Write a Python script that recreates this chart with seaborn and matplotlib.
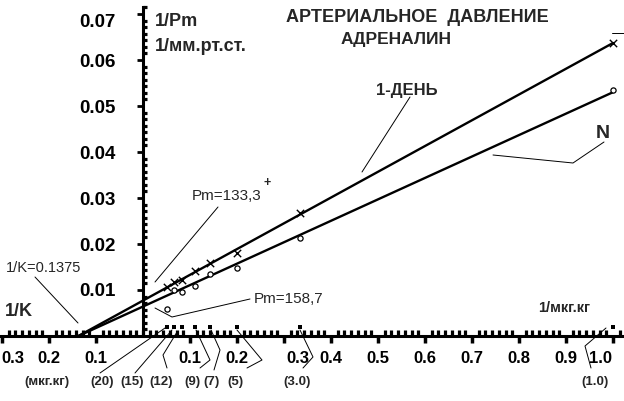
import numpy as np
import pandas as pd
import seaborn as sns
import matplotlib.pyplot as plt
from matplotlib.ticker import FixedLocator
from matplotlib.transforms import offset_copy

# данные (двойные обратные координаты: 1/доза и 1/Pm)
doses = ["(20)", "(15)", "(12)", "(9)", "(7)", "(5)", "(3.0)", "(1.0)"]
inv_dose = [0.05, 0.0667, 0.0833, 0.111, 0.143, 0.2, 0.333, 1.0]
day1 = [0.0107, 0.0117, 0.0122, 0.0142, 0.0159, 0.0180, 0.0268, 0.0637]
norm = [0.0059, 0.0100, 0.0096, 0.0109, 0.0135, 0.0148, 0.0213, 0.0535]

# линии регрессии: от 1/K до x = 1.0
line_x = [-0.1375, 1.0]
line_day1 = [0.0, 0.0637]
line_norm = [0.0, 0.0530]

xtick_pos = [-0.3, -0.2, -0.1, 0.1, 0.2, 0.3, 0.4, 0.5, 0.6, 0.7, 0.8, 0.9, 1.0]
xtick_labels = ["0.3", "0.2", "0.1", "0.1", "0.2", "0.3", "0.4", "0.5",
                "0.6", "0.7", "0.8", "0.9", "1.0"]
ytick_pos = [0.01, 0.02, 0.03, 0.04, 0.05, 0.06, 0.07]
ytick_labels = ["0.01", "0.02", "0.03", "0.04", "0.05", "0.06", "0.07"]

sns.set_style("white")
plt.rcParams['font.family'] = ['Liberation Sans', 'DejaVu Sans']

fig = plt.figure(figsize=(6.24, 4.01), dpi=100)
ax = fig.add_axes([0, 0, 1, 1])

# пиксели картинки -> координаты данных
X0, Y0, SX, SY = 143, 336, 470, 4600
def P(xp, yp):
    return (xp - X0) / SX, (Y0 - yp) / SY

ax.set_xlim(P(0, 0)[0], P(624, 0)[0])
ax.set_ylim(P(0, 401)[1], P(0, 0)[1])

sns.lineplot(x=line_x, y=line_day1, color="black", lw=1.7, ax=ax)
sns.lineplot(x=line_x, y=line_norm, color="black", lw=1.7, ax=ax)
sns.scatterplot(x=inv_dose, y=day1, marker="x", s=28, color="black",
                linewidth=1.0, ax=ax, zorder=5)
sns.scatterplot(x=inv_dose, y=norm, marker="o", s=14, fc="white",
                ec="black", linewidth=0.9, ax=ax, zorder=5)
DOSE_MARK_Y = 0.002
sns.scatterplot(x=inv_dose, y=[DOSE_MARK_Y] * len(inv_dose), marker="s",
                s=9, color="black", linewidth=0, ax=ax)

# оси
for s in ["top", "right"]:
    ax.spines[s].set_visible(False)
ax.spines["left"].set_position(("data", 0))
ax.spines["bottom"].set_position(("data", 0))
ax.spines["left"].set_bounds(0, 0.0715)
for s in ["left", "bottom"]:
    ax.spines[s].set_linewidth(2.2)
    ax.spines[s].set_color("black")

ax.set_xticks(xtick_pos, xtick_labels)
ax.set_yticks(ytick_pos, ytick_labels)
ax.xaxis.set_minor_locator(FixedLocator(np.arange(-21, 72) * 0.1 / 7))
ax.yaxis.set_minor_locator(FixedLocator(np.arange(1, 51) * 0.01 / 7))
ax.tick_params(which="both", bottom=True, left=True, colors="black")
ax.tick_params(axis="x", which="major", direction="out", length=5, width=2.5,
               pad=6, labelsize=12)
ax.tick_params(axis="y", which="major", direction="out", length=4, width=2.0,
               pad=16, labelsize=13.5)
ax.tick_params(axis="y", which="minor", direction="in", length=3, width=2.3)
ax.tick_params(axis="x", which="minor", direction="in", length=4, width=2.3)
for lab in ax.get_xticklabels() + ax.get_yticklabels():
    lab.set_fontweight("bold")

shift = {"-0.3": (11, 0), "0.3": (14, 0), "1.0": (-13, 0)}
for pos, lab in zip(xtick_pos, ax.get_xticklabels()):
    key = f"{pos:.1f}"
    if key in shift:
        dx, dy = shift[key]
        lab.set_transform(offset_copy(lab.get_transform(), fig=fig, x=dx, y=dy, units="dots"))
ylabs = ax.get_yticklabels()
ylabs[-1].set_transform(offset_copy(ylabs[-1].get_transform(), fig=fig, x=0, y=-6, units="dots"))

# подписи
def txt(xp, yp, s, size, bold=True, ha="left"):
    ax.text(*P(xp, yp), s, fontsize=size, fontweight="bold" if bold else "normal",
            ha=ha, va="center")

txt(417, 17, "АРТЕРИАЛЬНОЕ  ДАВЛЕНИЕ", 13, ha="center")
txt(396, 39, "АДРЕНАЛИН", 12.5, ha="center")
txt(155, 21, "1/Pm", 13)
txt(155, 46, "1/мм.рт.ст.", 13)
txt(407, 90, "1-ДЕНЬ", 12, ha="center")
txt(603, 133, "N", 14, ha="center")
txt(192, 196, "Pm=133,3", 11, bold=False)
txt(263, 183, "+", 9)
txt(254, 299, "Pm=158,7", 11, bold=False)
txt(6, 268, "1/K=0.1375", 10.5, bold=False)
txt(5, 311, "1/K", 13)
txt(538, 308, "1/мкг.кг", 10.5)
txt(47, 382, "(мкг.кг)", 9.5, ha="center")
dose_label_x = [102, 132, 161, 192, 212, 235, 297, 595]
for xp, s in zip(dose_label_x, doses):
    txt(xp, 382, s, 9.5, ha="center")

# выноски
leaders = [
    [(218, 207), (155, 282)],
    [(410, 97), (362, 172)],
    [(604, 142), (573, 163), (493, 155)],
    [(35, 277), (78, 323)],
    [(250, 299), (172, 317), (155, 308)],
    [(165, 328), (100, 373)],
    [(172, 330), (135, 373)],
    [(177, 332), (163, 355), (167, 368)],
    [(196, 330), (210, 360), (200, 368)],
    [(211, 330), (220, 350), (214, 370)],
    [(237, 330), (262, 360), (247, 368)],
    [(300, 330), (313, 357), (303, 368)],
    [(606, 328), (585, 346), (591, 368)],
    [(612, 33), (624, 33)],
]
for pts in leaders:
    xs, ys = zip(*[P(*p) for p in pts])
    ax.plot(xs, ys, color="black", lw=0.7)

fig.savefig("out.png", dpi=100)
